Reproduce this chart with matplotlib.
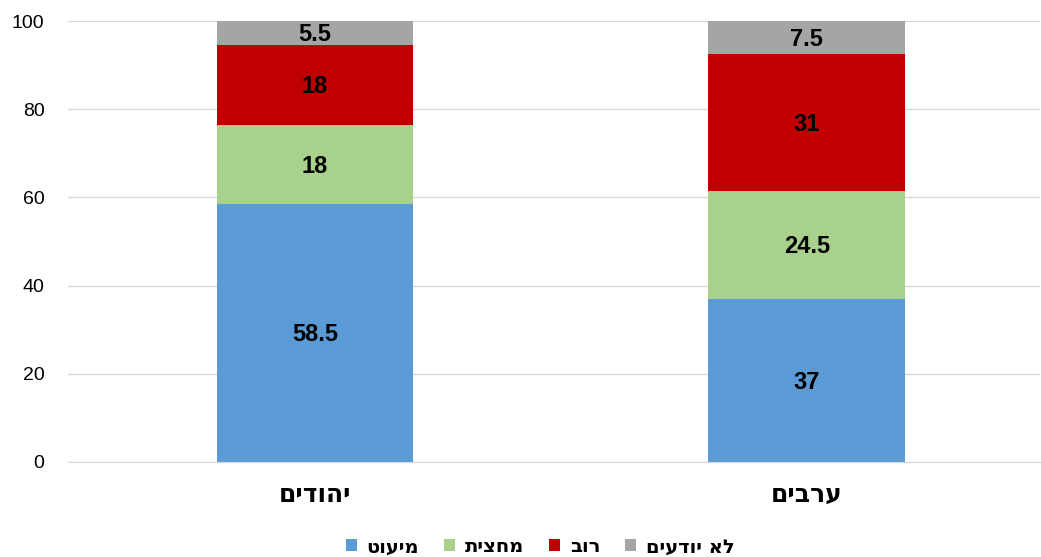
import matplotlib
matplotlib.use('Agg')
import matplotlib.pyplot as plt
import numpy as np

plt.rcParams['font.family'] = ['Liberation Sans', 'DejaVu Sans']
HEB_FONT = ['DejaVu Sans']

# Hebrew strings are reversed for display since matplotlib has no bidi support
def heb(s):
    return s[::-1]

groups = ['יהודים', 'ערבים']
series = ['מיעוט', 'מחצית', 'רוב', 'לא יודעים']
minority = [58.5, 37]
half = [18, 24.5]
majority = [18, 31]
dont_know = [5.5, 7.5]
colors = ['#5B9BD5', '#A9D18E', '#C00000', '#A5A5A5']

values = [minority, half, majority, dont_know]
labels = [['58.5', '37'], ['18', '24.5'], ['18', '31'], ['5.5', '7.5']]

fig = plt.figure(figsize=(10.41, 5.57), dpi=100)
ax = fig.add_axes([68 / 1041, 1 - 462 / 557, (1040 - 68) / 1041, (462 - 21) / 557])

x = np.arange(len(groups))
bottom = np.zeros(len(groups))
handles = []
for vals, lab, col, name in zip(values, labels, colors, series):
    bars = ax.bar(x, vals, width=0.4, bottom=bottom, color=col, zorder=2, label=heb(name))
    handles.append(bars)
    for xi, b, v, t in zip(x, bottom, vals, lab):
        ax.text(xi, b + v / 2 - 0.4, t, ha='center', va='center', fontsize=17,
                fontweight='bold', color='black', zorder=3)
    bottom = bottom + np.array(vals)

ax.set_xlim(-0.502, 1.474)
ax.set_ylim(0, 100)
ax.set_yticks([0, 20, 40, 60, 80, 100])
ax.yaxis.grid(True, color='#D9D9D9', linewidth=1, zorder=0)
ax.set_axisbelow(True)
for s in ['top', 'right', 'left']:
    ax.spines[s].set_visible(False)
ax.spines['bottom'].set_color('#D9D9D9')
ax.tick_params(axis='y', length=0, labelsize=14, pad=17)
ax.tick_params(axis='x', length=0, pad=15)
ax.set_xticks(x)
ax.set_xticklabels([heb(g) for g in groups], fontsize=18, fontweight='bold', family=HEB_FONT)

leg = fig.legend(handles=handles, loc='lower center', bbox_to_anchor=(0.519, -0.03),
                 ncol=4, frameon=False, prop={'size': 14, 'weight': 'bold', 'family': HEB_FONT},
                 handlelength=0.55, handleheight=0.55, handletextpad=0.5, columnspacing=1.3)

fig.savefig('out.png', dpi=100)
